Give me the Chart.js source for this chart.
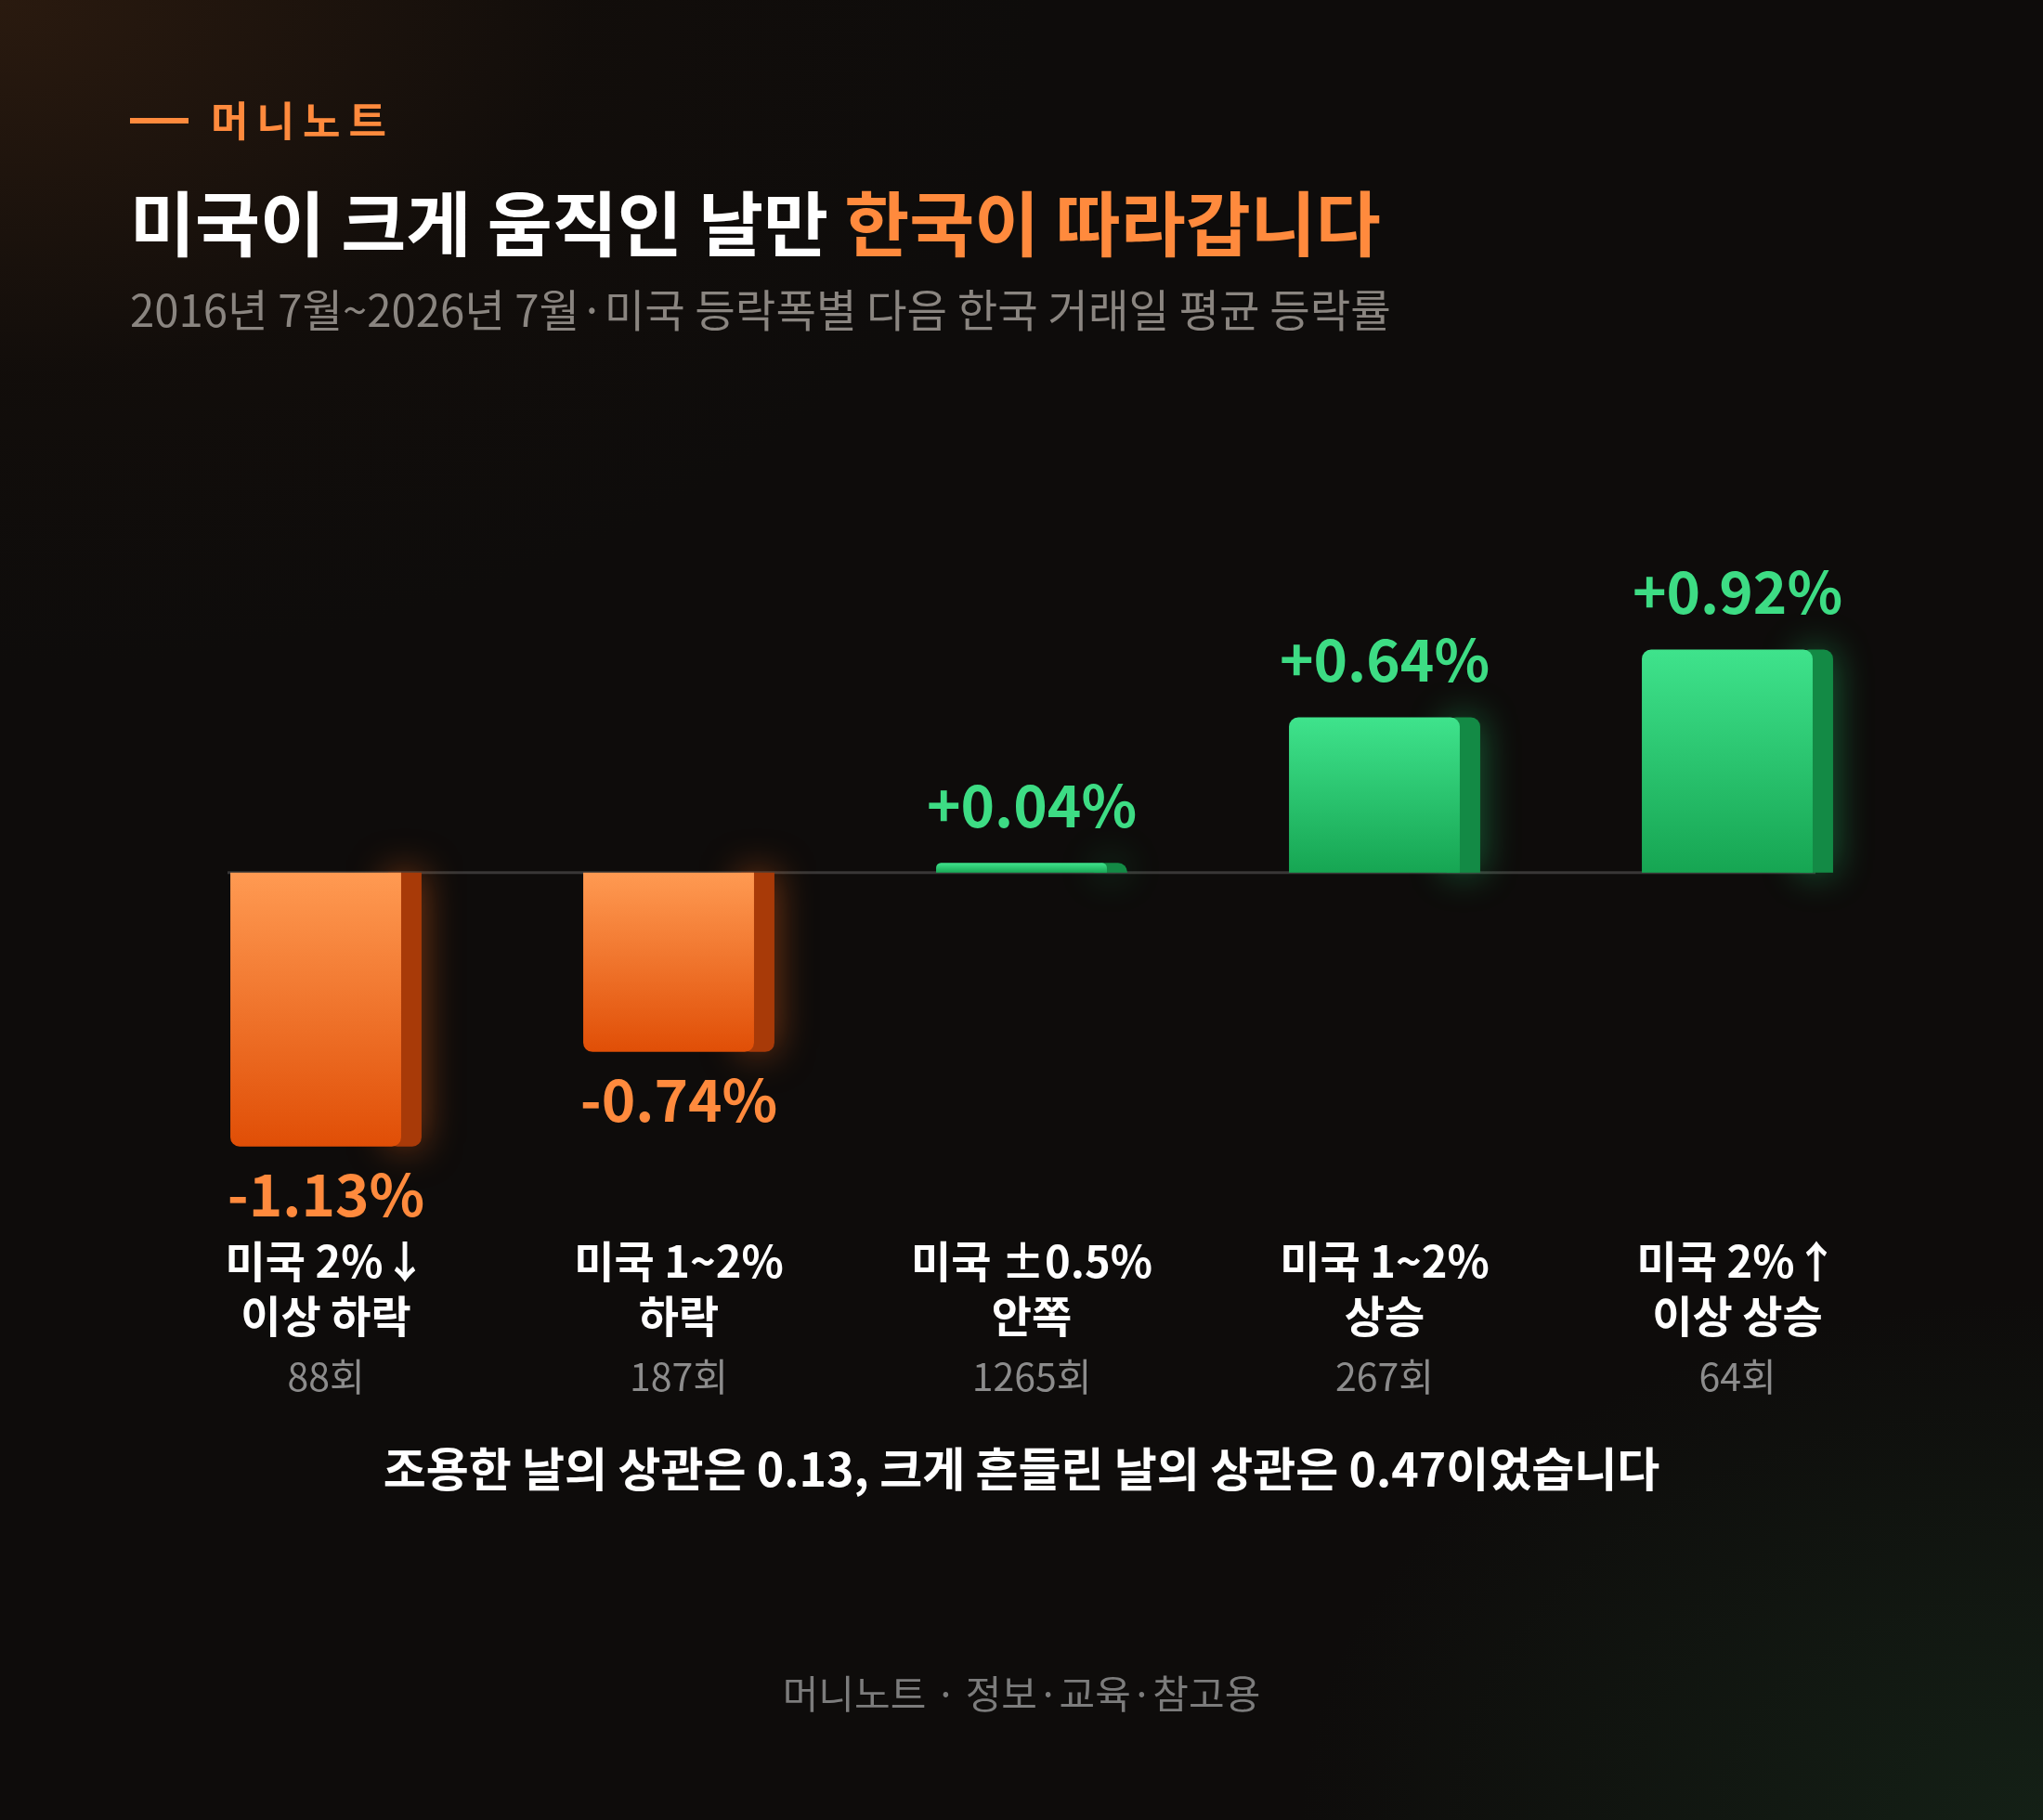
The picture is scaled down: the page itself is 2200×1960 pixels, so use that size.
<!DOCTYPE html>
<html><head><meta charset="utf-8">
<script src="https://cdn.jsdelivr.net/npm/chart.js@4"></script>
<style>
html,body{margin:0;padding:0;width:2200px;height:1960px;overflow:hidden;
background:radial-gradient(ellipse 1400px 900px at 0% 0%, #2a1a0f 0%, rgba(20,14,10,0.6) 45%, rgba(0,0,0,0) 80%),
radial-gradient(ellipse 1000px 700px at 100% 100%, #142016 0%, rgba(0,0,0,0) 80%),#0e0c0b;}
canvas{display:block}
</style></head><body>
<div style="width:2200px;height:1960px"><canvas id="c"></canvas></div>
<script>
const categories = ["미국 2%↓|이상 하락","미국 1~2%|하락","미국 ±0.5%|안쪽","미국 1~2%|상승","미국 2%↑|이상 상승"];
const values = [-1.13, -0.74, 0.04, 0.64, 0.92];
const counts = ["88회","187회","1265회","267회","64회"];
const valueLabels = ["-1.13%","-0.74%","+0.04%","+0.64%","+0.92%"];
const FONT = '"Noto Sans CJK KR","Noto Sans",sans-serif';
const ORANGE = '#ff8a3d', GREEN = '#3ddc84';

function fitFont(ctx, text, weight, target){
  ctx.font = weight+' 100px '+FONT;
  return 100*target/ctx.measureText(text).width;
}

const deco = {
  id:'deco',
  beforeDatasetsDraw(chart){
    const ctx=chart.ctx, y=chart.scales.y, meta=chart.getDatasetMeta(0);
    const z=y.getPixelForValue(0);
    // zero line
    ctx.save();
    ctx.strokeStyle='rgba(255,255,255,0.18)';ctx.lineWidth=3;
    ctx.beginPath();ctx.moveTo(chart.chartArea.left+95,z);ctx.lineTo(chart.chartArea.right-95,z);ctx.stroke();
    // side strips with glow
    meta.data.forEach((b,i)=>{
      const v=values[i]; const pos=v>=0;
      const right=b.x+b.width/2;
      const top=Math.min(b.y,z), h=Math.abs(b.y-z);
      ctx.save();
      ctx.shadowColor=pos?'rgba(40,220,120,0.45)':'rgba(255,110,30,0.5)';
      ctx.shadowBlur=40;
      ctx.fillStyle=pos?'#138a45':'#a83a08';
      ctx.beginPath();
      ctx.roundRect(right-14,top,36,h,pos?[10,10,0,0]:[0,0,10,10]);
      ctx.fill();
      ctx.restore();
    });
    ctx.restore();
  },
  afterDatasetsDraw(chart){
    const ctx=chart.ctx, meta=chart.getDatasetMeta(0), y=chart.scales.y;
    ctx.save();
    ctx.textAlign='center';ctx.textBaseline='middle';
    meta.data.forEach((b,i)=>{
      const v=values[i], cx=b.x+11;
      ctx.font='bold 62px '+FONT;
      ctx.fillStyle=v>=0?GREEN:ORANGE;
      ctx.fillText(valueLabels[i],cx, v>=0? b.y-62 : b.y+52);
      const [l1,l2]=categories[i].split('|');
      ctx.fillStyle='#ffffff';ctx.font='bold 47px '+FONT;
      ctx.fillText(l1,cx,1358);ctx.fillText(l2,cx,1417);
      ctx.fillStyle='#8c8c8c';ctx.font='41px '+FONT;
      ctx.fillText(counts[i],cx,1482);
    });
    // caption & footer
    ctx.fillStyle='#ffffff';ctx.font='bold 50px '+FONT;
    ctx.fillText('조용한 날의 상관은 0.13, 크게 흔들린 날의 상관은 0.47이었습니다',1100,1582);
    ctx.fillStyle='#7c7c7c';ctx.font='42px '+FONT;
    ctx.fillText('머니노트 · 정보·교육·참고용',1100,1824);
    // header
    ctx.textAlign='left';
    ctx.fillStyle=ORANGE;ctx.fillRect(140,127,63,6);
    ctx.font='bold 44px '+FONT;ctx.letterSpacing='9px';
    ctx.fillText('머니노트',227,130);
    ctx.letterSpacing='0px';
    const t1='미국이 크게 움직인 날만 ', t2='한국이 따라갑니다';
    const fs=fitFont(ctx,t1+t2,'bold',1347);
    ctx.font='bold '+fs+'px '+FONT;
    ctx.fillStyle='#ffffff';ctx.fillText(t1,140,241);
    const w=ctx.measureText(t1).width;
    ctx.fillStyle=ORANGE;ctx.fillText(t2,140+w,241);
    const sub='2016년 7월~2026년 7월·미국 등락폭별 다음 한국 거래일 평균 등락률';
    const fs2=fitFont(ctx,sub,'normal',1358);
    ctx.font=fs2+'px '+FONT;ctx.fillStyle='#8a8580';
    ctx.fillText(sub,140,334);
    ctx.restore();
  }
};

new Chart(document.getElementById('c'),{
  type:'bar',
  data:{labels:categories,datasets:[{
    data:values,
    backgroundColor(c){
      const ch=c.chart, a=ch.chartArea; if(!a) return '#888';
      const v=values[c.dataIndex]; const y=ch.scales.y; const z=y.getPixelForValue(0), e=y.getPixelForValue(v);
      const g=ch.ctx.createLinearGradient(0,Math.min(z,e),0,Math.max(z,e)+1);
      if(v>=0){g.addColorStop(0,'#3fe38c');g.addColorStop(1,'#16a552');}
      else{g.addColorStop(0,'#ff9a52');g.addColorStop(1,'#e04e06');}
      return g;
    },
    borderRadius:10,borderSkipped:'start',
    barPercentage:0.484,categoryPercentage:1
  }]},
  options:{
    responsive:true,maintainAspectRatio:false,animation:false,devicePixelRatio:1,
    layout:{padding:{top:522,bottom:446,left:150,right:150}},
    scales:{x:{display:false},y:{display:false,min:-2.2,max:1.6}},
    plugins:{legend:{display:false},tooltip:{enabled:false}}
  },
  plugins:[deco]
});
</script></body></html>
